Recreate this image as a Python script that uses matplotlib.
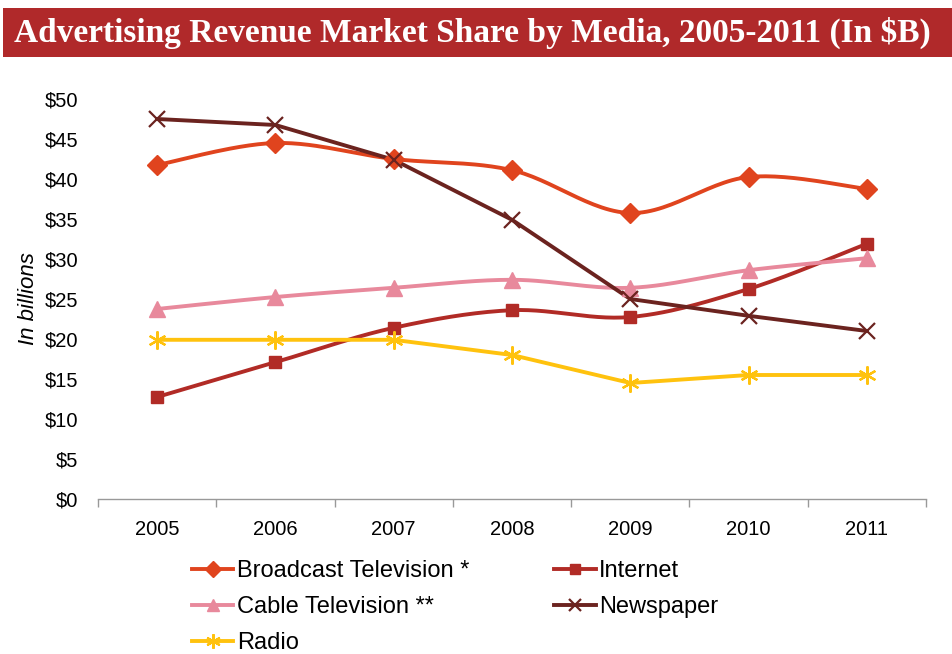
import numpy as np
import matplotlib
matplotlib.use("Agg")
import matplotlib.pyplot as plt
from matplotlib.patches import Rectangle

years = ["2005", "2006", "2007", "2008", "2009", "2010", "2011"]
broadcast = [41.75, 44.5, 42.5, 41.1, 35.75, 40.25, 38.75]
internet = [12.75, 17.1, 21.4, 23.6, 22.75, 26.25, 31.9]
cable = [23.75, 25.25, 26.4, 27.4, 26.4, 28.6, 30.1]
newspaper = [47.5, 46.75, 42.4, 34.9, 25.0, 22.9, 21.0]
radio = [19.9, 19.9, 19.9, 18.0, 14.5, 15.5, 15.5]
yticks = [0, 5, 10, 15, 20, 25, 30, 35, 40, 45, 50]
title = "Advertising Revenue Market Share by Media, 2005-2011 (In $B)"

plt.rcParams['font.family'] = ['Liberation Sans', 'DejaVu Sans']


def smooth(x, y, n=30):
    # Catmull-Rom style smoothing (similar to Excel smoothed line)
    x = np.asarray(x, float)
    y = np.asarray(y, float)
    xs, ys = [], []
    for i in range(len(x) - 1):
        p0 = np.array([x[max(i - 1, 0)], y[max(i - 1, 0)]])
        p1 = np.array([x[i], y[i]])
        p2 = np.array([x[i + 1], y[i + 1]])
        p3 = np.array([x[min(i + 2, len(x) - 1)], y[min(i + 2, len(x) - 1)]])
        c1 = p1 + (p2 - p0) / 6.0
        c2 = p2 - (p3 - p1) / 6.0
        t = np.linspace(0, 1, n)[:, None]
        pts = ((1 - t) ** 3) * p1 + 3 * ((1 - t) ** 2) * t * c1 + 3 * (1 - t) * t ** 2 * c2 + t ** 3 * p2
        if i > 0:
            pts = pts[1:]
        xs.append(pts[:, 0])
        ys.append(pts[:, 1])
    return np.concatenate(xs), np.concatenate(ys)


fig = plt.figure(figsize=(9.52, 6.54), dpi=100)
ax = fig.add_axes([98 / 952, 155 / 654, 828 / 952, 400 / 654])

x = np.arange(len(years))
series = [
    ("Broadcast Television *", broadcast, "#E0441E", "D", 10, True),
    ("Internet", internet, "#B12B26", "s", 9, True),
    ("Cable Television **", cable, "#E8899C", "^", 11, True),
    ("Newspaper", newspaper, "#6B231F", "x", 11, False),
    ("Radio", radio, "#FFC20E", (6, 2, 0), 13, False),
]
handles = []
for name, vals, col, mk, ms, sm in series:
    if sm:
        sx, sy = smooth(x, vals)
    else:
        sx, sy = x, np.asarray(vals)
    ax.plot(sx, sy, color=col, lw=2.8, solid_capstyle='round', zorder=2)
    mew = 1.6 if mk == "x" or isinstance(mk, tuple) else 1
    ax.plot(x, vals, linestyle='none', marker=mk, ms=ms, color=col, mec=col, mew=mew, zorder=3)
    h, = ax.plot([], [], color=col, lw=2.8, marker=mk, ms=ms * 0.8, mec=col, mew=mew)
    handles.append((h, name))

ax.set_xlim(-0.5, 6.5)
ax.set_ylim(0, 50)
ax.set_yticks(yticks)
ax.set_yticklabels([f"${v}" for v in yticks], fontsize=14.5)
ax.set_xticks(x)
ax.set_xticklabels(years, fontsize=14.5)
ax.set_xticks(np.arange(-0.5, 7, 1), minor=True)
ax.tick_params(axis='x', which='major', length=0, pad=15)
ax.tick_params(axis='x', which='minor', length=6, color='#999999', width=1)
ax.tick_params(axis='y', length=0, pad=14)
for s in ['top', 'right', 'left']:
    ax.spines[s].set_visible(False)
ax.spines['bottom'].set_color('#999999')
ax.spines['bottom'].set_linewidth(1)
ax.set_ylabel("In billions", fontsize=16, style='italic', labelpad=4)

order = [0, 2, 4, 1, 3]
leg = fig.legend([handles[i][0] for i in order], [handles[i][1] for i in order], ncol=2,
                 loc='upper left', bbox_to_anchor=(192 / 952, 1 - 560 / 654),
                 frameon=False, fontsize=17, handlelength=1.75, handletextpad=0.15,
                 columnspacing=3.6, labelspacing=0.6, borderaxespad=0, borderpad=0)

fig.patches.append(Rectangle((3 / 952, 1 - 57 / 654), 949 / 952, 49 / 654,
                             transform=fig.transFigure, facecolor="#B0292A",
                             edgecolor='none', zorder=0))
fig.text(14 / 952, 1 - 33 / 654, title, color='white', fontsize=24, fontweight='bold',
         family=['Liberation Serif'], va='center', ha='left')

fig.savefig("out.png", dpi=100)
